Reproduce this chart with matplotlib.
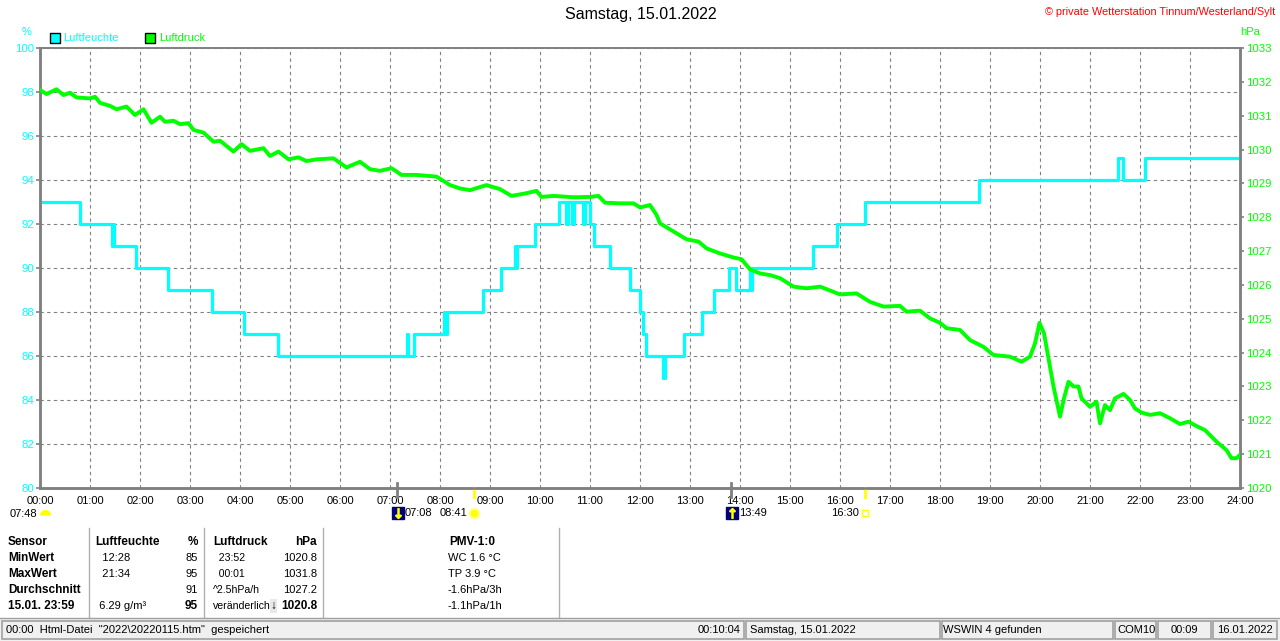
import matplotlib
matplotlib.use('Agg')
import matplotlib.pyplot as plt
import matplotlib.transforms as mtransforms
from matplotlib.patches import Rectangle

plt.rcParams['font.family'] = ['Liberation Sans', 'DejaVu Sans']

W, H = 1280, 641
CYAN = '#00ffff'
GREEN = '#00ff00'
GRAY = '#808080'

# Luftfeuchte (%): hour where the value changes, value from then on
hum_t = [0.0, 0.8, 1.43, 1.45, 1.47, 1.92, 2.55, 3.43, 4.07, 4.75,
         7.33, 7.36, 7.47, 8.07, 8.1, 8.14, 8.85, 9.22, 9.5, 9.52,
         9.54, 9.9, 10.37, 10.52, 10.55, 10.64, 10.67, 10.86, 10.89, 11.0,
         11.08, 11.4, 11.8, 11.99, 12.05, 12.12, 12.46, 12.49, 12.87, 13.23,
         13.48, 13.77, 13.92, 14.2, 14.22, 14.24, 15.45, 15.93, 16.5, 18.78,
         21.55, 21.65, 22.1, 24.0]
hum_v = [93, 92, 91, 92, 91, 90, 89, 88, 87, 86,
         87, 86, 87, 88, 87, 88, 89, 90, 91, 90,
         91, 92, 93, 92, 93, 92, 93, 92, 93, 92,
         91, 90, 89, 88, 87, 86, 85, 86, 87, 88,
         89, 90, 89, 90, 89, 90, 91, 92, 93, 94,
         95, 94, 95, 95]

# Luftdruck (hPa)
pres_t = [0, 0.13, 0.33, 0.47, 0.6, 0.73, 1.0, 1.1, 1.2, 1.4,
          1.53, 1.73, 1.9, 2.07, 2.23, 2.4, 2.5, 2.67, 2.8, 2.97,
          3.07, 3.27, 3.47, 3.6, 3.87, 4.03, 4.2, 4.47, 4.6, 4.77,
          4.97, 5.17, 5.33, 5.53, 5.87, 6.13, 6.4, 6.6, 6.8, 7.03,
          7.23, 7.53, 7.93,
          8.2, 8.4, 8.6, 8.93, 9.2, 9.43, 9.73, 9.93, 10.03, 10.27,
          10.67, 11.0, 11.17, 11.3, 11.6, 11.87, 12.0, 12.2, 12.33, 12.4,
          12.6, 12.93, 13.17, 13.33, 13.6, 13.87, 14.03, 14.2, 14.4, 14.6,
          14.8, 15.07, 15.33, 15.6, 16.0,
          16.33, 16.6, 16.87, 17.2, 17.33, 17.6, 17.8, 18.0, 18.13, 18.4,
          18.6, 18.87, 19.07, 19.4, 19.63, 19.8, 19.9, 19.99, 20.08, 20.17,
          20.27, 20.4, 20.48, 20.57, 20.67, 20.77, 20.83, 21.0, 21.13, 21.2,
          21.3, 21.4, 21.5, 21.67, 21.8, 21.9, 22.03, 22.2, 22.4, 22.6,
          22.8, 22.97, 23.13, 23.3, 23.53, 23.73, 23.83, 23.93, 24.0]
pres_v = [1031.76, 1031.64, 1031.78, 1031.61, 1031.68, 1031.54, 1031.51, 1031.56, 1031.38, 1031.29,
          1031.19, 1031.27, 1031.02, 1031.19, 1030.79, 1030.97, 1030.82, 1030.85, 1030.75, 1030.78,
          1030.58, 1030.50, 1030.23, 1030.26, 1029.94, 1030.16, 1029.96, 1030.04, 1029.81, 1029.94,
          1029.71, 1029.77, 1029.66, 1029.71, 1029.74, 1029.47, 1029.64, 1029.42, 1029.37, 1029.45,
          1029.25, 1029.25, 1029.20,
          1028.95, 1028.85, 1028.80, 1028.95, 1028.83, 1028.63, 1028.71, 1028.78, 1028.60, 1028.63,
          1028.59, 1028.60, 1028.63, 1028.43, 1028.41, 1028.41, 1028.29, 1028.36, 1028.07, 1027.82,
          1027.64, 1027.35, 1027.28, 1027.08, 1026.93, 1026.81, 1026.76, 1026.46, 1026.34, 1026.29,
          1026.20, 1025.95, 1025.90, 1025.95, 1025.72,
          1025.75, 1025.50, 1025.36, 1025.38, 1025.21, 1025.24, 1025.01, 1024.88, 1024.72, 1024.67,
          1024.37, 1024.17, 1023.93, 1023.88, 1023.73, 1023.88, 1024.27, 1024.88, 1024.57, 1023.83,
          1023.00, 1022.11, 1022.65, 1023.14, 1023.00, 1023.00, 1022.65, 1022.40, 1022.55, 1021.91,
          1022.45, 1022.30, 1022.65, 1022.78, 1022.60, 1022.35, 1022.23, 1022.16, 1022.21, 1022.06,
          1021.89, 1021.96, 1021.83, 1021.71, 1021.37, 1021.12, 1020.88, 1020.88, 1020.98]

hours = list(range(25))
hour_labels = ['%02d:00' % h for h in hours]
hum_ticks = list(range(80, 101, 2))
pres_ticks = list(range(1020, 1034))

sunrise, sunset = 8 + 41 / 60, 16 + 30 / 60
moonset, moonrise = 7 + 8 / 60, 13 + 49 / 60

table_rows = [
    ['Sensor', 'Luftfeuchte', '%', 'Luftdruck', 'hPa', 'PMV-1:0'],
    ['MinWert', '  12:28', '85', '  23:52', '1020.8', 'WC 1.6 °C'],
    ['MaxWert', '  21:34', '95', '  00:01', '1031.8', 'TP 3.9 °C'],
    ['Durchschnitt', '', '91', '^2.5hPa/h', '1027.2', '-1.6hPa/3h'],
    ['15.01. 23:59', ' 6.29 g/m³', '95', 'veränderlich', '1020.8', '-1.1hPa/1h'],
]

fig = plt.figure(figsize=(12.8, 6.41), dpi=100)

# pixel overlay for the texts around the chart
bg = fig.add_axes([0, 0, 1, 1])
bg.set_xlim(0, W)
bg.set_ylim(H, 0)
bg.axis('off')

ax = fig.add_axes([40 / W, 1 - 488 / H, 1200 / W, 440 / H])
ax2 = ax.twinx()

ax.step(hum_t, hum_v, where='post', color=CYAN, lw=2.3, zorder=3)
ax2.plot(pres_t, pres_v, color=GREEN, lw=2.8, zorder=3)

ax.set_xlim(0, 24)
ax.set_ylim(80, 100)
ax2.set_ylim(1020, 1033)
ax.set_xticks(hours)
ax.set_xticklabels(hour_labels)
ax.set_yticks(hum_ticks)
ax.set_yticklabels([str(v) for v in hum_ticks])
ax2.set_yticks(pres_ticks)
ax2.set_yticklabels([str(v) for v in pres_ticks])

ax.grid(True, color=GRAY, linestyle=(0, (3, 3)), linewidth=0.8)
ax.tick_params(axis='x', length=0, pad=6, labelsize=8, labelcolor='black')
ax.tick_params(axis='y', length=3, width=1.2, color=GRAY, pad=1.5,
               labelsize=8.2, labelcolor=CYAN)
ax2.tick_params(axis='y', length=3, width=1.2, color=GRAY, pad=1.5,
                labelsize=8.2, labelcolor=GREEN)
for a in (ax, ax2):
    for s in a.spines.values():
        s.set_color(GRAY)
        s.set_linewidth(1.8)
    a.spines['top'].set_linewidth(1.2)

# sun / moon marks under the time axis
blend = mtransforms.blended_transform_factory(ax.transData, ax.transAxes)
y_icon = -0.057
for t, c in [(moonset, GRAY), (moonrise, GRAY), (sunrise, '#ffff00'), (sunset, '#ffff00')]:
    y0 = 0.012 if c == GRAY else 0.0
    ax.plot([t, t], [y0, -0.02], color=c, lw=2, transform=blend, clip_on=False, zorder=5)

for t, arrow in [(moonset, r'$\downarrow$'), (moonrise, r'$\uparrow$')]:
    ax.plot(t + 0.02, y_icon, marker='s', ms=8, mfc='#000080', mec='#000080',
            transform=blend, clip_on=False)
    ax.plot(t + 0.02, y_icon, marker=arrow, ms=7, color='#ffff00',
            transform=blend, clip_on=False)
    ax.annotate('%02d:%02d' % (int(t), round((t % 1) * 60)), (t, y_icon),
                xycoords=blend, xytext=(6, 0), textcoords='offset points',
                ha='left', va='center', fontsize=8, annotation_clip=False)

ax.plot(sunrise, y_icon, marker='o', ms=7, mfc='#ffff00', mec='#ffff99', mew=1.5,
        transform=blend, clip_on=False)
ax.annotate('08:41', (sunrise, y_icon), xycoords=blend, xytext=(-5, 0),
            textcoords='offset points', ha='right', va='center', fontsize=8,
            annotation_clip=False)
ax.plot(sunset, y_icon, marker='s', ms=4.5, mfc='none', mec='#ffff00', mew=1,
        transform=blend, clip_on=False)
ax.annotate('16:30', (sunset, y_icon), xycoords=blend, xytext=(-4, 0),
            textcoords='offset points', ha='right', va='center', fontsize=8,
            annotation_clip=False)

bg.text(37, 514, '07:48', ha='right', va='center', fontsize=8)
bg.plot(45, 515, marker='o', ms=8, fillstyle='top', mfc='#ffff00', mec='none')

# titles and legend
bg.text(641, 15, 'Samstag, 15.01.2022', ha='center', va='center', fontsize=11.5)
bg.text(1275, 12, '© private Wetterstation Tinnum/Westerland/Sylt', ha='right',
        va='center', fontsize=7.8, color='#ff0000')
bg.text(27, 32, '%', ha='center', va='center', fontsize=8, color=CYAN)
bg.text(1250, 32, 'hPa', ha='center', va='center', fontsize=8, color=GREEN)
bg.add_patch(Rectangle((50, 33), 9.5, 9.5, facecolor=CYAN, edgecolor='black', lw=1))
bg.text(63, 38, 'Luftfeuchte', ha='left', va='center', fontsize=8, color=CYAN)
bg.add_patch(Rectangle((145, 33), 9.5, 9.5, facecolor=GREEN, edgecolor='black', lw=1))
bg.text(159, 38, 'Luftdruck', ha='left', va='center', fontsize=8, color=GREEN)

# summary table
row_y = [542, 558, 574, 590, 606]
for i, row in enumerate(table_rows):
    y = row_y[i]
    head = i == 0
    bold_val = head or i == 4
    bg.text(8, y, row[0], ha='left', va='center', fontsize=8.5, fontweight='bold')
    bg.text(95 if head else 96, y, row[1], ha='left', va='center',
            fontsize=8.5 if head else 8, fontweight='bold' if head else 'normal')
    bg.text(198, y, row[2], ha='right', va='center', fontsize=8.5 if bold_val else 8,
            fontweight='bold' if bold_val else 'normal')
    bg.text(213, y, row[3], ha='left', va='center', fontsize=8.5 if head else 7.6,
            fontweight='bold' if head else 'normal')
    bg.text(317, y, row[4], ha='right', va='center', fontsize=8.5 if bold_val else 8,
            fontweight='bold' if bold_val else 'normal')
    if head:
        bg.text(472, y, row[5], ha='center', va='center', fontsize=8.5, fontweight='bold')
    else:
        bg.text(448, y, row[5], ha='left', va='center', fontsize=8)
bg.add_patch(Rectangle((270, 599), 7, 14, facecolor='#e8e8e8', edgecolor='none'))
bg.text(273.5, 606, '↓', ha='center', va='center', fontsize=8.5, fontweight='bold')
for x in [88.5, 204, 323, 559]:
    bg.plot([x, x], [528, 617], color='#b0b0b0', lw=1)

# status bar
bg.add_patch(Rectangle((0, 618), W, 23, facecolor='#f0f0f0', edgecolor='none'))
bg.plot([0, W], [618, 618], color='#a0a0a0', lw=1)
panels = [(2, 744), (746, 940), (942, 1113), (1115, 1156), (1158, 1211), (1213, 1277)]
for x0, x1 in panels:
    bg.add_patch(Rectangle((x0, 621), x1 - x0, 18, facecolor='none',
                           edgecolor='#a0a0a0', lw=1.2))
status = [(6, 'left', '00:00  Html-Datei  "2022\\20220115.htm"  gespeichert'),
          (741, 'right', '00:10:04'),
          (750, 'left', 'Samstag, 15.01.2022'),
          (943, 'left', 'WSWIN 4 gefunden'),
          (1117, 'left', 'COM10'),
          (1184, 'center', '00:09'),
          (1245, 'center', '16.01.2022')]
for x, ha, s in status:
    bg.text(x, 630, s, ha=ha, va='center', fontsize=8)

fig.savefig('out.png', dpi=100)
